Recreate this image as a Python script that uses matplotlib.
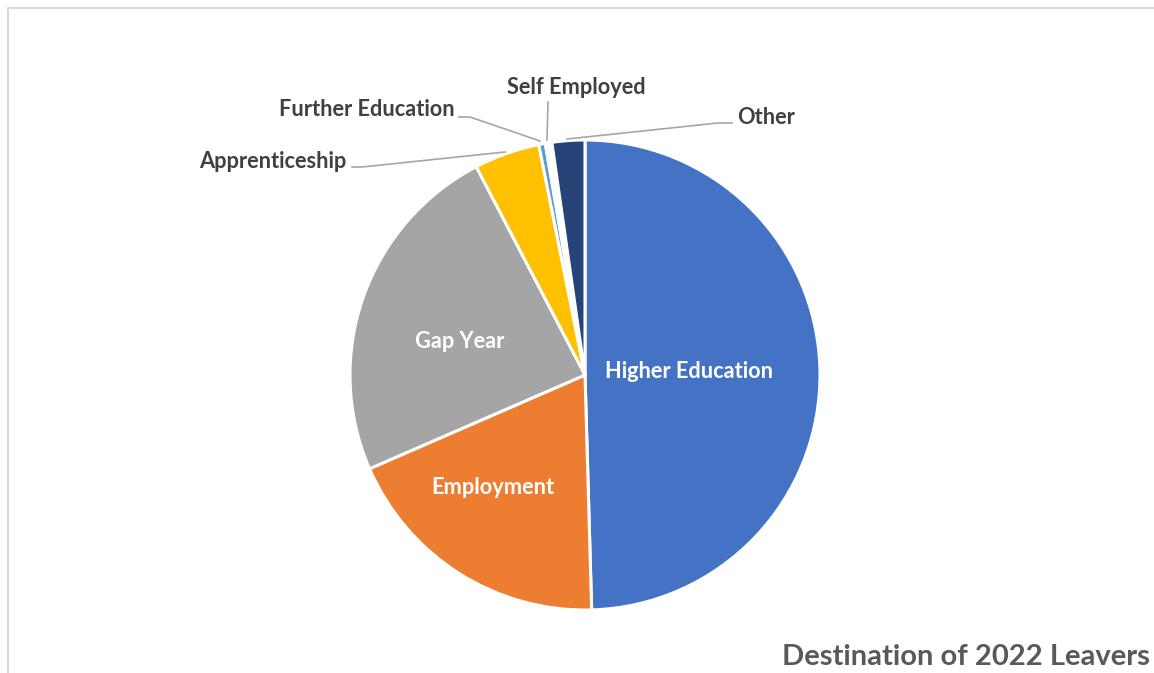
import matplotlib.pyplot as plt
from matplotlib.lines import Line2D

# Destination counts of 2022 leavers
categories = ["Higher Education", "Employment", "Gap Year", "Apprenticeship",
              "Further Education", "Self Employed", "Other"]
counts = [110, 42, 53, 10, 1, 1, 5]
colors = ["#4472C4", "#ED7D31", "#A5A5A5", "#FFC000", "#5B9BD5", "#FFFFFF", "#264478"]

W, H = 1154, 673
plt.rcParams["font.family"] = ["Lato", "DejaVu Sans"]

fig = plt.figure(figsize=(W / 100, H / 100), dpi=100)
ax = fig.add_axes([0, 0, 1, 1])


def py(y):
    # image pixel row -> axes y
    return H - y


ax.pie(counts, colors=colors, startangle=90, counterclock=False,
       center=(585, py(375)), radius=235, frame=True,
       wedgeprops=dict(edgecolor="white", linewidth=2.2))
ax.set_xlim(0, W)
ax.set_ylim(0, H)
ax.set_aspect("auto")
ax.axis("off")

# chart frame (only top and left are visible in the crop)
ax.add_line(Line2D([8, W], [py(8), py(8)], color="#D9D9D9", lw=1.5))
ax.add_line(Line2D([8, 8], [py(8), 0], color="#D9D9D9", lw=1.5))

# labels inside the slices
inner = {"Higher Education": (689, 371), "Employment": (493, 488), "Gap Year": (460, 341)}
for name, (x, y) in inner.items():
    ax.text(x, py(y), name, color="white", fontsize=15.7, fontweight="bold",
            ha="center", va="center")

# outside labels with leader lines
lead = "#A6A6A6"
outside = [
    ("Apprenticeship", (346, 161), "right", [(352, 167), (362, 167), (505, 152)]),
    ("Further Education", (455, 110), "right", [(459, 117), (470, 117), (540, 141)]),
    ("Self Employed", (576, 88), "center", [(548, 102), (547, 140)]),
    ("Other", (737, 117), "left", [(732, 123), (718, 123), (567, 139)]),
]
for name, (x, y), ha, pts in outside:
    ax.text(x, py(y), name, color="#404040", fontsize=15.7, fontweight="bold",
            ha=ha, va="center")
    ax.add_line(Line2D([p[0] for p in pts], [py(p[1]) for p in pts],
                       color=lead, lw=1.2))

ax.text(1150, py(657), "Destination of 2022 Leavers", color="#595959",
        fontsize=21, fontweight="bold", ha="right", va="center")

fig.savefig("out.png", dpi=100)
